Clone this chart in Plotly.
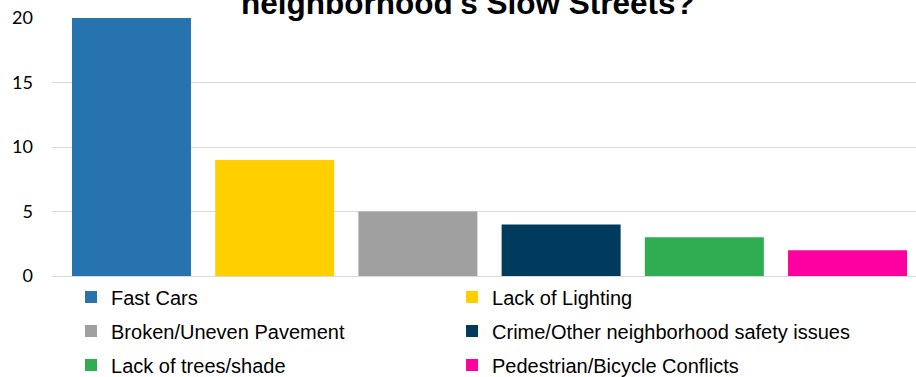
import plotly.graph_objects as go

categories = ["Fast Cars", "Lack of Lighting", "Broken/Uneven Pavement",
              "Crime/Other neighborhood safety issues", "Lack of trees/shade",
              "Pedestrian/Bicycle Conflicts"]
values = [20, 9, 5, 4, 3, 2]
colors = ["#2773AE", "#FFCF00", "#A0A0A0", "#003A5D", "#30AD53", "#FF00A0"]
y_ticks = [0, 5, 10, 15, 20]
title_line = "neighborhood's Slow Streets?"

legend_ids = ["legend", "legend2", "legend3", "legend4", "legend5", "legend6"]
col_x = [0.022, 0.463]
row_y = [-0.0814, -0.2132, -0.345]

fig = go.Figure()
for i, (cat, val, col) in enumerate(zip(categories, values, colors)):
    fig.add_trace(go.Bar(
        x=[i], y=[val], name=cat, marker=dict(color=col, line=dict(width=0)),
        width=0.831, legend=legend_ids[i], hoverinfo="skip",
    ))

leg_common = dict(orientation="v", font=dict(family="Liberation Sans, Arial", size=20, color="#000000"),
                  itemwidth=30, bgcolor="rgba(0,0,0,0)", xanchor="left", yanchor="middle")

legend_layout = {}
for i, lid in enumerate(legend_ids):
    legend_layout[lid] = dict(x=col_x[i % 2], y=row_y[i // 2], **leg_common)

fig.update_layout(
    width=916, height=377,
    margin=dict(l=52, r=0, t=18, b=101, autoexpand=False),
    paper_bgcolor="white", plot_bgcolor="white",
    barmode="overlay",
    showlegend=True,
    xaxis=dict(range=[-0.555, 5.478], showticklabels=False, showgrid=False,
               zeroline=False, showline=False, ticks=""),
    yaxis=dict(range=[0, 20], tickvals=y_ticks, showgrid=True, gridcolor="#D9D9D9",
               gridwidth=1, zeroline=True, zerolinecolor="#D9D9D9", zerolinewidth=1,
               showline=False, ticks="", ticklabelstandoff=18,
               tickfont=dict(family="Lato", size=18, color="#000000")),
    annotations=[dict(text="<b>" + title_line + "</b>", xref="paper", yref="paper",
                      x=0.482, y=1, xanchor="center", yanchor="bottom", yshift=-5,
                      showarrow=False,
                      font=dict(family="Liberation Sans, Arial", size=31.5, color="#000000"))],
    **legend_layout,
)

fig.write_html("out.html")
